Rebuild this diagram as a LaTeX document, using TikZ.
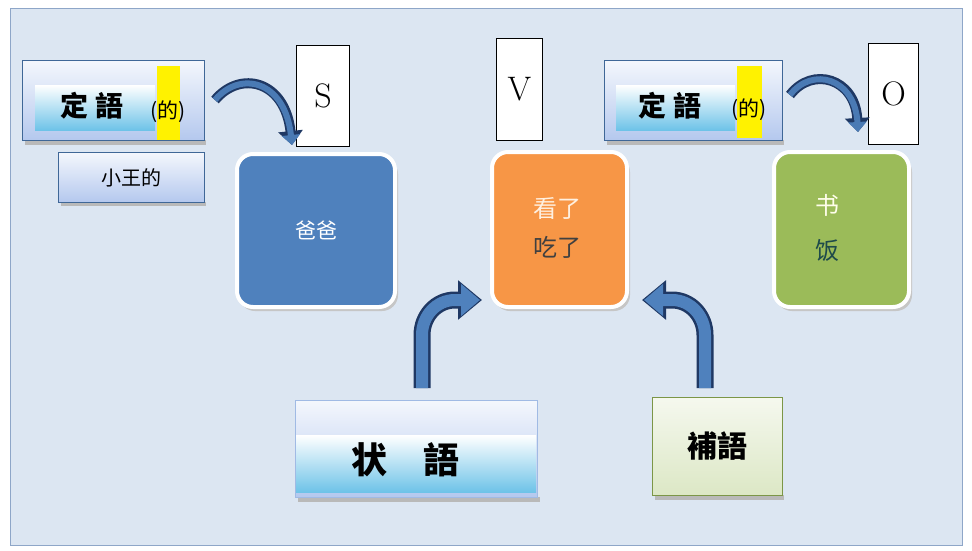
\documentclass[tikz,border=0pt]{standalone}
\usepackage{fontspec}
\newfontfamily\cjk{Noto Sans CJK TC}
\usetikzlibrary{arrows.meta}
\definecolor{bg}{HTML}{DCE6F2}
\definecolor{bd}{HTML}{8EA6C8}
\definecolor{sblue}{HTML}{4F81BD}
\definecolor{sorange}{HTML}{F79646}
\definecolor{sgreen}{HTML}{9BBB59}
\definecolor{navy}{HTML}{1F3864}
\definecolor{abox}{HTML}{B4C8EE}
\definecolor{cyanb}{HTML}{6EC3E8}
\definecolor{darkteal}{HTML}{1E4A4A}
\tikzset{
  tagbox/.style={draw=sblue!80!black, line width=1pt, top color=white!85!abox, bottom color=abox},
  letterbox/.style={draw=black, line width=1pt, fill=white},
  core/.style={draw=white, line width=4pt, rounded corners=16pt},
  coreshadow/.style={fill=gray!45, rounded corners=16pt},
  bigarrow/.style={line width=17pt, draw=navy, -{Triangle[length=24pt,width=38pt]}},
  bigarrowin/.style={line width=12pt, draw=sblue, -{Triangle[length=19pt,width=31pt]}},
  curvarrow/.style={line width=10pt, draw=navy, -{Triangle[length=14pt,width=24pt]}},
  curvarrowin/.style={line width=6pt, draw=sblue!90!navy, -{Triangle[length=10pt,width=18pt]}},
  shadow/.style={fill=gray!55, draw=none},
}
\begin{document}
\begin{tikzpicture}[x=1pt,y=-1pt]
\useasboundingbox (0,0) rectangle (972,550);
\fill[white] (0,0) rectangle (972,550);
\draw[bd, fill=bg, line width=1pt] (10,8) rectangle (962,545);

% left 定語
\fill[shadow] (25,140) rectangle (206,145);
\node[tagbox, minimum width=182pt, minimum height=80pt, anchor=north west] (dl) at (22,60) {};
\fill[top color=white, bottom color=cyanb] (35,85) rectangle (155,130);
\fill[yellow] (157,66) rectangle (180,140);
\node[font=\cjk\bfseries\fontsize{28}{28}\selectfont] (dlt) at (92,106) {定\hspace{8pt}語};
\node[font=\cjk\fontsize{21}{21}\selectfont, inner sep=0pt] (dld) at (168,112) {(的)};
\fill[shadow] (61,202) rectangle (206,206);
\node[tagbox, minimum width=146pt, minimum height=50pt, anchor=north west, font=\cjk\fontsize{20}{20}\selectfont] (xw) at (58,152) {小王的};

% S
\node[letterbox, minimum width=53pt, minimum height=101pt, anchor=north west, font=\fontsize{34}{34}\selectfont] (S) at (296,45) {S};
% 爸爸
\fill[coreshadow] (239,158) rectangle (398,311);
\node[core, fill=sblue, minimum width=158pt, minimum height=153pt, anchor=north west, text=white, font=\cjk\fontsize{21}{21}\selectfont] (bb) at (235,152) {爸爸};

% V
\node[letterbox, minimum width=46pt, minimum height=102pt, anchor=north west, font=\fontsize{34}{34}\selectfont] (V) at (496,38) {V};
% 看了 吃了
\fill[coreshadow] (494,156) rectangle (630,311);
\node[core, fill=sorange, minimum width=135pt, minimum height=155pt, anchor=north west] (kc) at (490,150) {};
\node[text=white!88!orange, font=\cjk\fontsize{24}{24}\selectfont] (k1) at (557,208) {看了};
\node[text=black!75, font=\cjk\fontsize{24}{24}\selectfont] (k2) at (557,247) {吃了};

% right 定語
\fill[shadow] (607,140) rectangle (784,145);
\node[tagbox, minimum width=178pt, minimum height=80pt, anchor=north west] (dr) at (604,60) {};
\fill[top color=white, bottom color=cyanb] (616,85) rectangle (735,130);
\fill[yellow] (737,66) rectangle (762,138);
\node[font=\cjk\bfseries\fontsize{28}{28}\selectfont] (drt) at (670,106) {定\hspace{8pt}語};
\node[font=\cjk\fontsize{21}{21}\selectfont, inner sep=0pt] (drd) at (749,110) {(的)};

% O
\node[letterbox, minimum width=50pt, minimum height=101pt, anchor=north west, font=\fontsize{34}{34}\selectfont] (O) at (868,43) {O};
% 书 饭
\fill[coreshadow] (776,156) rectangle (912,311);
\node[core, fill=sgreen, minimum width=135pt, minimum height=155pt, anchor=north west] (sf) at (772,150) {};
\node[text=white!92!yellow, font=\cjk\fontsize{24}{24}\selectfont] (s1) at (827,205) {书};
\node[text=darkteal, font=\cjk\fontsize{24}{24}\selectfont] (s2) at (827,250) {饭};

% curved arrows
\coordinate (ca1) at (215,100); \coordinate (ca2) at (292,145);
\draw[curvarrow] (ca1) .. controls (240,70) and (285,80) .. (ca2);
\draw[curvarrowin] (ca1) .. controls (240,70) and (285,80) .. (ca2);
\coordinate (cb1) at (790,95); \coordinate (cb2) at (858,132);
\draw[curvarrow] (cb1) .. controls (812,66) and (855,78) .. (cb2);
\draw[curvarrowin] (cb1) .. controls (812,66) and (855,78) .. (cb2);

% 状語
\fill[shadow] (298,497) rectangle (540,502);
\node[tagbox, draw=abox!80!sblue, minimum width=242pt, minimum height=97pt, anchor=north west] (zy) at (295,400) {};
\fill[top color=white, bottom color=cyanb] (296,435) rectangle (536,492);
\node[font=\cjk\bfseries\fontsize{36}{36}\selectfont] (zyt) at (405,460) {状\hspace{36pt}語};

% 補語
\fill[shadow] (655,495) rectangle (784,500);
\node[draw=sgreen!80!black, line width=1pt, top color=white!90!sgreen, bottom color=sgreen!35!white, minimum width=130pt, minimum height=98pt, anchor=north west, font=\cjk\bfseries\fontsize{30}{30}\selectfont] (by) at (652,397) {補語};

% bottom arrows
\coordinate (a1) at (422,388); \coordinate (b1) at (705,388);
\draw[bigarrow] (a1) -- (422,335) to[out=90,in=180] (455,300) -- (482,300);
\draw[bigarrowin] (a1) -- (422,335) to[out=90,in=180] (455,300) -- (480,300);
\draw[bigarrow] (b1) -- (705,335) to[out=90,in=0] (672,300) -- (642,300);
\draw[bigarrowin] (b1) -- (705,335) to[out=90,in=0] (672,300) -- (644,300);
\end{tikzpicture}
\end{document}
